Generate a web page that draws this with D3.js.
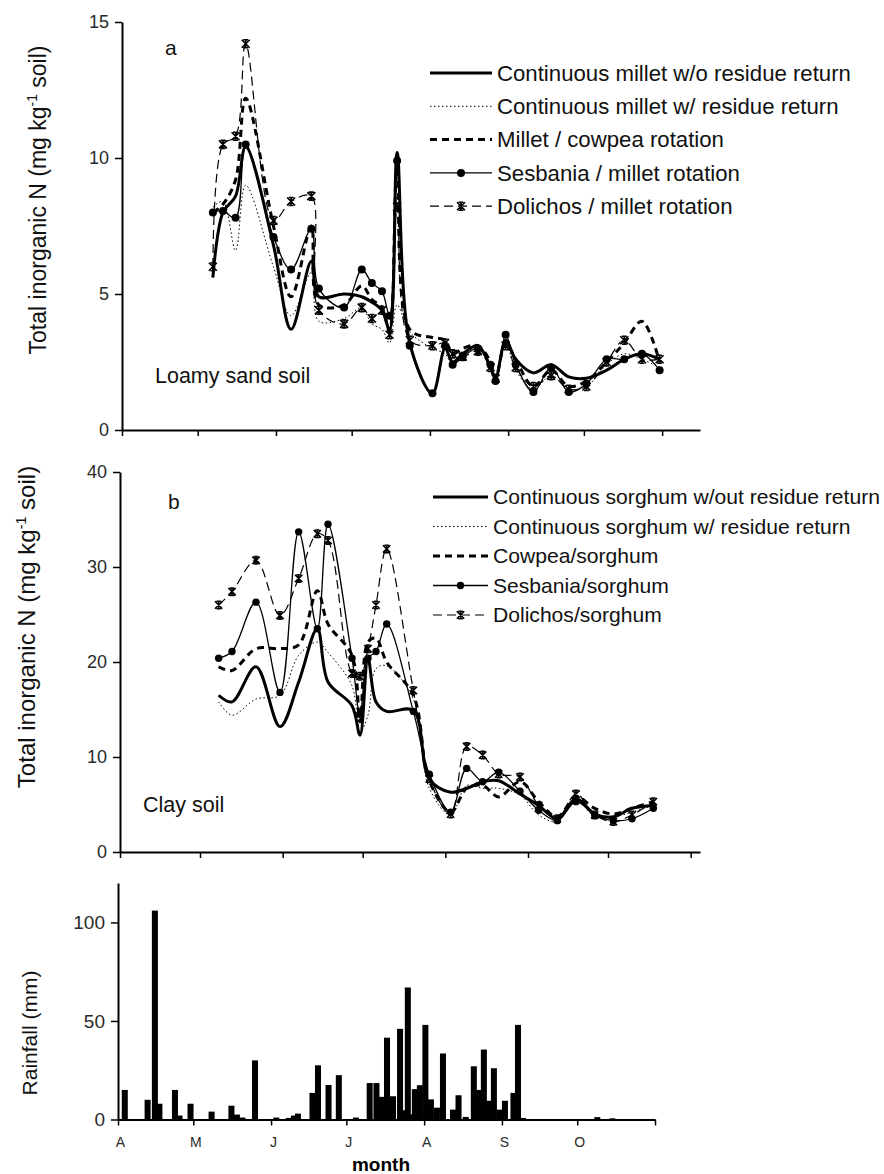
<!DOCTYPE html>
<html>
<head>
<meta charset="utf-8">
<script src="https://cdn.jsdelivr.net/npm/d3@7"></script>
<style>
  html, body { margin: 0; padding: 0; background: #fff; }
  svg { display: block; font-family: "Liberation Sans", Arial, sans-serif; }
</style>
</head>
<body>
<svg id="chart" width="884" height="1174"></svg>
<script>
// ---- time axis: days counted from 1 April ----
const monthTicks = [0, 30, 61, 91, 122, 153, 183, 214];
const monthLabels = ["A", "M", "J", "J", "A", "S", "O"];

// ---- (a) loamy sand soil, total inorganic N (mg/kg) ----
const daysA = [36, 40, 45, 49, 60, 67, 75, 78, 88, 95, 99, 103, 106, 109, 114, 123,
               128, 131, 135, 141, 146, 148, 152, 156, 163, 170, 177, 184, 192, 199, 206, 213];
const milletNoResidue = [5.6, 8.0, 8.6, 10.4, 6.8, 3.7, 6.2, 4.9, 5.0, 4.9, 4.7, 4.4, 3.7, 10.2, 3.2, 1.35,
                         3.0, 2.5, 2.8, 3.1, 2.3, 1.9, 3.3, 2.6, 2.1, 2.4, 1.95, 1.9, 2.2, 2.6, 2.8, 2.6];
const milletResidue   = [8.2, 8.4, 6.6, 9.0, 6.0, 4.2, 5.8, 4.0, 4.1, 4.5, 3.9, 3.7, 3.2, 4.6, 3.6, 3.0,
                         2.8, 2.4, 2.8, 3.0, 2.2, 1.8, 3.2, 2.2, 1.5, 2.0, 1.5, 1.6, 2.4, 2.8, 2.6, 2.3];
const milletCowpea    = [8.0, 8.3, 9.2, 12.2, 7.5, 4.9, 7.5, 4.6, 4.6, 5.3, 4.8, 4.5, 3.6, 9.6, 3.7, 3.4,
                         3.3, 2.8, 3.0, 3.1, 2.5, 1.9, 3.2, 2.6, 1.6, 2.2, 1.6, 1.8, 2.5, 3.2, 4.0, 2.5];
const sesbaniaMillet  = [8.0, 8.05, 7.8, 10.5, 7.1, 5.9, 7.4, 5.2, 4.5, 5.9, 5.4, 5.1, 4.2, 9.9, 3.1, 1.35,
                         3.1, 2.4, 2.7, 3.0, 2.4, 1.8, 3.5, 2.4, 1.4, 2.3, 1.4, 1.7, 2.6, 2.6, 2.8, 2.2];
const dolichosMillet  = [6.0, 10.5, 10.8, 14.2, 7.7, 8.4, 8.6, 4.4, 3.9, 4.5, 4.1, 4.4, 3.5, 8.2, 3.3, 3.1,
                         3.2, 2.8, 2.7, 2.9, 2.3, 1.9, 3.1, 2.3, 1.6, 2.0, 1.5, 1.6, 2.5, 3.3, 2.6, 2.6];
const namesA = ["Continuous millet w/o residue return", "Continuous millet w/ residue return",
                "Millet / cowpea rotation", "Sesbania / millet rotation", "Dolichos / millet rotation"];

// ---- (b) clay soil, total inorganic N (mg/kg) ----
const daysB = [37, 42, 51, 60, 67, 74, 78, 87, 90, 93, 96, 100, 110, 116, 124, 130,
               136, 142, 150, 157, 164, 171, 178, 185, 192, 200];
const sorghumNoResidue = [16.5, 15.8, 19.5, 13.2, 17.9, 23.5, 17.9, 15.4, 12.3, 20.4, 15.8, 14.8, 14.9,
                          7.7, 6.3, 6.7, 7.4, 7.5, 6.1, 4.9, 3.5, 5.6, 4.0, 3.7, 4.6, 4.9];
const sorghumResidue   = [15.8, 14.4, 16.1, 16.5, 20.7, 22.1, 21.0, 17.5, 12.6, 14.4, 19.3, 19.6, 16.1,
                          6.7, 3.9, 7.0, 6.7, 6.7, 6.0, 3.9, 3.2, 5.6, 3.7, 3.7, 4.2, 4.9];
const cowpeaSorghum    = [19.5, 19.1, 21.4, 21.4, 21.8, 27.5, 24.0, 20.7, 13.7, 22.1, 22.5, 20.0, 16.5,
                          7.5, 4.2, 6.7, 7.0, 5.8, 7.4, 5.3, 3.7, 5.8, 4.6, 4.0, 4.6, 5.3];
const sesbaniaSorghum  = [20.4, 21.1, 26.3, 16.8, 33.7, 23.5, 34.5, 20.4, 14.5, 20.4, 21.1, 24.0, 14.8,
                          8.2, 4.2, 8.8, 7.4, 8.4, 6.4, 4.4, 3.3, 5.3, 3.9, 3.3, 3.5, 4.6];
const dolichosSorghum  = [26.0, 27.4, 30.7, 24.9, 28.8, 33.5, 32.8, 18.8, 18.5, 21.4, 26.0, 31.9, 17.0,
                          7.7, 4.0, 11.1, 10.2, 8.2, 7.9, 4.9, 3.5, 6.1, 3.9, 3.2, 3.9, 5.3];
const namesB = ["Continuous sorghum w/out residue return", "Continuous sorghum w/ residue return",
                "Cowpea/sorghum", "Sesbania/sorghum", "Dolichos/sorghum"];

// ---- (c) rainfall events (mm) ----
const rainDay = [2.7, 11.8, 14.7, 16.5, 22.7, 24.5, 28.9, 37.3, 45.2, 47.4, 49.6, 54.6, 63.1, 68.1, 70.1, 71.7,
                 77.5, 79.7, 83.9, 88.0, 94.8, 100.3, 103.0, 105.2, 107.2, 109.6, 112.4, 113.9, 115.5, 116.9,
                 118.3, 120.3, 122.5, 124.7, 127.1, 129.5, 133.5, 135.7, 138.6, 141.8, 143.6, 145.8, 147.6,
                 149.8, 152.0, 154.2, 157.6, 159.4, 161.4, 191.0, 197.0];
const rainMm  = [15, 10, 106, 8, 15, 2, 8, 4, 7, 2.5, 1, 30, 1, 0.8, 2, 3,
                 13.5, 27.5, 17.5, 22.5, 1, 18.5, 18.5, 11.5, 41.5, 11.8, 46, 4.7, 67, 2.6,
                 15.4, 17.4, 48, 10.2, 6, 33.5, 5, 12.3, 1.3, 27, 15, 35.5, 9.5,
                 26, 5, 9.5, 13.5, 48, 0.8, 1.2, 0.6];

// ---- line styles per treatment (same order in both panels) ----
const styles = [
  { width: 3.0, dash: null,  marker: null },
  { width: 1.0, dash: "1.5,2.5", marker: null },
  { width: 3.0, dash: "7,5", marker: null },
  { width: 1.3, dash: null,  marker: "circle" },
  { width: 1.2, dash: "9,5", marker: "star" }
];

const svg = d3.select("#chart");
const FONT = '"Liberation Sans", Arial, sans-serif';

function styleAxis(sel, labelSize) {
  sel.select(".domain").attr("stroke", "#000").attr("stroke-width", 2);
  sel.selectAll(".tick line").attr("stroke", "#000").attr("stroke-width", 1.5);
  sel.selectAll(".tick text").attr("fill", "#2a2a2a").attr("font-size", labelSize)
     .attr("font-family", FONT);
}

function drawMarker(g, type, cx, cy, r) {
  if (type === "circle") {
    g.append("circle").attr("cx", cx).attr("cy", cy).attr("r", r).attr("fill", "#000");
  } else if (type === "star") {
    const s = r;
    g.append("path")
      .attr("d", `M${cx - s},${cy - s}L${cx + s},${cy + s}M${cx - s},${cy + s}L${cx + s},${cy - s}` +
                 `M${cx},${cy - s - 0.5}L${cx},${cy + s + 0.5}M${cx - s * 0.6},${cy - s}L${cx + s * 0.6},${cy - s}` +
                 `M${cx - s * 0.6},${cy + s}L${cx + s * 0.6},${cy + s}`)
      .attr("stroke", "#000").attr("stroke-width", 1.6).attr("fill", "none");
  }
}

function yTitle(x, y, size, parts) {
  const t = svg.append("text")
    .attr("transform", `translate(${x},${y}) rotate(-90)`)
    .attr("text-anchor", "middle").attr("font-size", size).attr("fill", "#111");
  parts.forEach(p => {
    const ts = t.append("tspan").text(p.text);
    if (p.sup) ts.attr("font-size", size * 0.6).attr("dy", -size * 0.38);
    if (p.after) ts.attr("dy", size * 0.38);
  });
}

function drawNPanel(cfg) {
  const { x, y, days, series, names, yTicks } = cfg;
  const g = svg.append("g");

  // axes
  const xa = g.append("g").attr("transform", `translate(0,${y(0)})`)
    .call(d3.axisBottom(x).tickValues(monthTicks).tickSize(6).tickSizeOuter(0).tickFormat(""));
  styleAxis(xa, 18);
  const ya = g.append("g").attr("transform", `translate(${x(0)},0)`)
    .call(d3.axisLeft(y).tickValues(yTicks).tickSize(7).tickPadding(6).tickSizeOuter(0));
  styleAxis(ya, 18);

  // curves
  const line = d3.line().x(d => x(d[0])).y(d => y(d[1])).curve(d3.curveCatmullRom.alpha(0.5));
  series.forEach((vals, i) => {
    const st = styles[i];
    const pts = days.map((d, j) => [d, vals[j]]);
    g.append("path").datum(pts).attr("d", line)
      .attr("fill", "none").attr("stroke", "#000").attr("stroke-width", st.width)
      .attr("stroke-dasharray", st.dash).attr("stroke-linejoin", "round");
    if (st.marker) {
      pts.forEach(p => drawMarker(g, st.marker, x(p[0]), y(p[1]), cfg.markerR));
    }
  });

  // legend
  const L = cfg.legend;
  names.forEach((name, i) => {
    const st = styles[i];
    const ly = L.y0 + i * L.step;
    g.append("line").attr("x1", L.x1).attr("x2", L.x2).attr("y1", ly).attr("y2", ly)
      .attr("stroke", "#000").attr("stroke-width", st.width).attr("stroke-dasharray", st.dash);
    if (st.marker) drawMarker(g, st.marker, (L.x1 + L.x2) / 2, ly, cfg.markerR);
    g.append("text").attr("x", L.tx).attr("y", ly).attr("dy", "0.35em")
      .attr("font-size", L.size).attr("fill", "#111").text(name);
  });

  // panel letter and soil label
  g.append("text").attr("x", cfg.letter.x).attr("y", cfg.letter.y).attr("font-size", 21)
    .attr("fill", "#111").text(cfg.letter.t);
  g.append("text").attr("x", cfg.soil.x).attr("y", cfg.soil.y).attr("font-size", 21.5)
    .attr("fill", "#111").text(cfg.soil.t);
}

// ---- panel (a) ----
const xA = d3.scaleLinear().domain([0, 229]).range([122, 700]);
const yA = d3.scaleLinear().domain([0, 15]).range([430, 22]);
drawNPanel({
  x: xA, y: yA, days: daysA, names: namesA, yTicks: [0, 5, 10, 15], markerR: 4,
  series: [milletNoResidue, milletResidue, milletCowpea, sesbaniaMillet, dolichosMillet],
  legend: { x1: 430, x2: 492, tx: 497, y0: 73, step: 33.3, size: 22.2 },
  letter: { x: 165, y: 55, t: "a" },
  soil: { x: 155, y: 383, t: "Loamy sand soil" }
});
yTitle(46, 200, 23, [{ text: "Total inorganic N (mg kg" }, { text: "-1", sup: true }, { text: " soil)", after: true }]);

// ---- panel (b) ----
const xB = d3.scaleLinear().domain([0, 217.5]).range([120, 700]);
const yB = d3.scaleLinear().domain([0, 40]).range([852, 472]);
drawNPanel({
  x: xB, y: yB, days: daysB, names: namesB, yTicks: [0, 10, 20, 30, 40], markerR: 3.7,
  series: [sorghumNoResidue, sorghumResidue, cowpeaSorghum, sesbaniaSorghum, dolichosSorghum],
  legend: { x1: 433, x2: 488, tx: 493, y0: 497, step: 29.5, size: 21.1 },
  letter: { x: 168, y: 509, t: "b" },
  soil: { x: 143, y: 812, t: "Clay soil" }
});
yTitle(35, 627, 24, [{ text: "Total inorganic N (mg kg" }, { text: "-1", sup: true }, { text: " soil)", after: true }]);

// ---- panel (c) rainfall ----
const xC = d3.scaleLinear().domain([0, 214]).range([118, 655]);
const yC = d3.scaleLinear().domain([0, 120]).range([1119.5, 883]);
const gc = svg.append("g");
const barW = xC(2.4) - xC(0);
gc.selectAll("rect.rain").data(rainDay.map((d, i) => [d, rainMm[i]])).join("rect")
  .attr("class", "rain")
  .attr("x", d => xC(d[0]) - barW / 2).attr("width", barW)
  .attr("y", d => yC(d[1])).attr("height", d => yC(0) - yC(d[1]))
  .attr("fill", "#000");
const xca = gc.append("g").attr("transform", `translate(0,${yC(0)})`)
  .call(d3.axisBottom(xC).tickValues(monthTicks).tickSize(6).tickSizeOuter(0).tickPadding(12)
        .tickFormat((d, i) => monthLabels[i] || ""));
styleAxis(xca, 14);
xca.selectAll(".tick text").attr("dx", 2);
const yca = gc.append("g").attr("transform", `translate(${xC(0)},0)`)
  .call(d3.axisLeft(yC).tickValues([0, 50, 100]).tickSize(7).tickPadding(6).tickSizeOuter(0));
styleAxis(yca, 19);
yTitle(37, 1033, 21, [{ text: "Rainfall (mm)" }]);
svg.append("text").attr("x", xC(104.8)).attr("y", 1171).attr("text-anchor", "middle")
  .attr("font-size", 19).attr("font-weight", "bold").attr("fill", "#000").text("month");
</script>
</body>
</html>
